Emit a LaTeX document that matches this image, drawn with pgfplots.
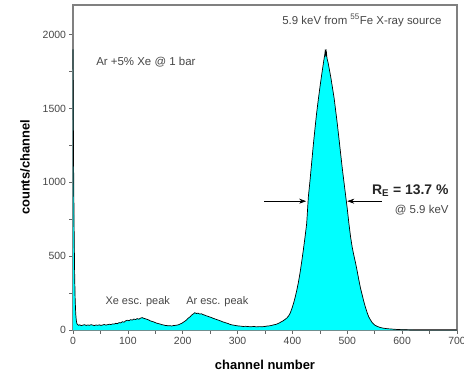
\documentclass[border=0pt]{standalone}
\usepackage{fontspec}
\setmainfont{Liberation Sans}
\usepackage{pgfplots}
\pgfplotsset{compat=1.18}
\usepackage{pgfplotstable}
\usetikzlibrary{arrows.meta}

\definecolor{peakfill}{RGB}{0,255,255}
\definecolor{annot}{RGB}{70,70,70}
\definecolor{frame}{RGB}{128,128,128}

% 55Fe pulse-height spectrum, Ar + 5% Xe at 1 bar
\pgfplotstableread{
ch counts
0 1900
1 1150
2 700
3 380
4 200
5 110
6 65
7 45
8 38
10 32
12 35
15 30
18 33
21 36
24 31
27 34
30 32
33 36
36 33
39 30
42 34
45 32
48 35
51 31
54 34
57 37
60 33
63 36
66 39
69 37
72 41
75 40
78 45
81 43
84 50
87 48
90 56
93 53
96 62
99 66
102 63
105 70
108 67
111 74
114 71
117 77
120 73
123 80
126 84
129 79
132 76
135 72
138 68
141 62
144 58
147 55
150 50
153 46
156 43
159 40
162 36
165 34
168 31
171 30
174 28
177 29
180 27
183 30
186 31
189 33
192 35
195 40
198 45
201 52
204 60
207 68
210 80
213 88
216 100
219 108
222 117
225 112
228 114
231 108
234 110
237 104
240 101
243 96
246 93
249 88
252 85
255 80
258 76
261 72
264 68
267 64
270 60
273 55
276 52
279 48
282 45
285 40
288 36
291 34
294 32
297 30
300 28
303 27
306 26
310 24
315 25
320 23
325 22
330 24
335 21
340 23
345 22
350 24
354 27
358 28
362 31
366 35
370 38
374 44
378 52
382 60
386 70
390 82
393 95
396 115
399 145
402 180
405 222
408 270
411 325
414 390
417 465
420 545
423 630
426 721
429 900
432 1010
435 1130
438 1250
441 1360
444 1465
447 1555
450 1640
453 1720
455 1770
457 1820
459 1865
460 1900
461 1850
462 1880
463 1840
465 1810
467 1770
470 1710
473 1640
476 1570
479 1480
482 1390
485 1290
488 1190
491 1090
494 1000
497 910
500 820
503 720
506 630
509 560
512 505
515 455
518 400
521 340
524 285
527 240
530 195
533 155
536 120
539 90
542 70
545 52
548 40
551 31
555 24
560 17
565 13
570 10
575 8
580 7
585 5
590 4
595 3
600 2
610 1
620 0
700 0
}\spectrum

\begin{document}
\begin{tikzpicture}
\begin{axis}[
  name=ax,
  at={(0,0)}, anchor=south west,
  scale only axis,
  width=384bp, height=325bp,
  xmin=0, xmax=700, ymin=0, ymax=2200,
  xtick={0,100,...,700},
  ytick={0,500,...,2000},
  minor x tick num=1,
  minor ytick={250,750,1250,1750},
  tick align=outside,
  tick pos=left,
  major tick length=3.5bp,
  minor tick length=3.5bp,
  axis line style={draw=frame, line width=1.1pt},
  every tick/.style={draw=black!60, line width=0.6pt},
  tick label style={font=\fontsize{10.5}{12}\selectfont, text=annot},
  /pgf/number format/assume math mode=true,
  /pgf/number format/set thousands separator={},
  every axis x label/.style={at={(axis description cs:0.5,0)}, yshift=-35bp, anchor=center},
  every axis y label/.style={at={(axis description cs:0,0.5)}, xshift=-48bp, rotate=90, anchor=center},
  label style={font=\bfseries\fontsize{13}{15}\selectfont},
  xlabel={channel number},
  ylabel={counts/channel},
  clip=false,
]
  % plot frame
  \draw[frame, line width=1.1pt] (rel axis cs:1,0) -- (rel axis cs:0,0) -- (rel axis cs:0,1) -- (rel axis cs:1,1) -- cycle;

  % filled spectrum and its outline
  \addplot[fill=peakfill, draw=none] table[x=ch, y=counts] {\spectrum} \closedcycle;
  \addplot[black, line width=0.7pt] table[x=ch, y=counts] {\spectrum};

  % resolution markers at half height
  \draw[-{Stealth[length=7bp,width=5bp]}, line width=0.6pt] (axis cs:349,872) -- (axis cs:425,872);
  \draw[-{Stealth[length=7bp,width=5bp]}, line width=0.6pt] (axis cs:563,872) -- (axis cs:500,872);

  \node[anchor=east, text=annot, font=\fontsize{11.5}{13}\selectfont] at (axis cs:678,2095)
    {5.9 keV from \textsuperscript{55}Fe X-ray source};
  \node[anchor=west, text=annot, font=\fontsize{11.5}{13}\selectfont] at (axis cs:36,1811)
    {Ar +5\% Xe @ 1 bar};
  \node[text=annot, font=\fontsize{11}{13}\selectfont] at (axis cs:118,189) {Xe esc. peak};
  \node[text=annot, font=\fontsize{11}{13}\selectfont] at (axis cs:263,189) {Ar esc. peak};
  \node[anchor=east, text=black!85, font=\bfseries\fontsize{14}{16}\selectfont] at (axis cs:691,946)
    {R\textsubscript{E} = 13.7 \%};
  \node[anchor=east, text=annot, font=\fontsize{11.5}{13}\selectfont] at (axis cs:691,811)
    {@ 5.9 keV};
\end{axis}
\path (ax.south west) ++(-73bp,-51bp) coordinate (bl);
\pgfresetboundingbox
\useasboundingbox (bl) rectangle ++(464bp,381bp);
\end{tikzpicture}
\end{document}
